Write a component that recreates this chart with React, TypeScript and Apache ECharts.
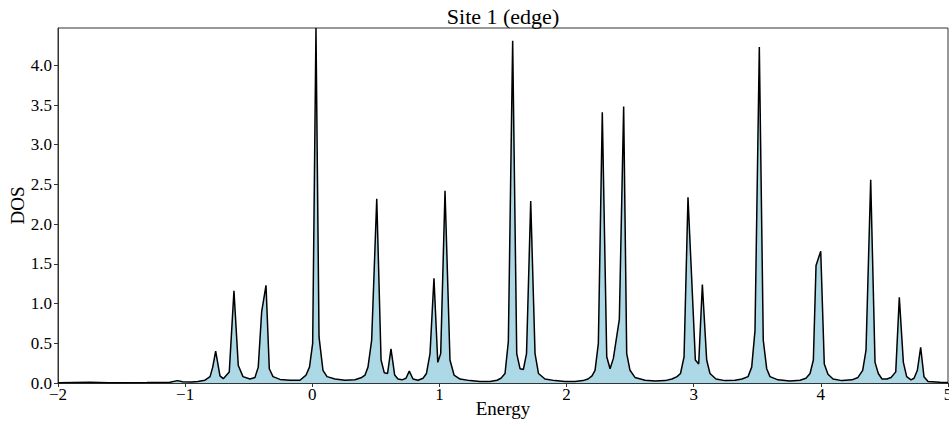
import React, { useEffect, useRef } from "react";
import * as echarts from "echarts";

const chartTitle = "Site 1 (edge)";
const xLabel = "Energy";
const yLabel = "DOS";

// Energy values of the curve vertices
const energy = [
  -2.0, -1.75, -1.6, -1.3, -1.12, -1.06, -1.02, -0.95, -0.9, -0.844,
  -0.804, -0.783, -0.76, -0.726, -0.7, -0.653, -0.616, -0.582, -0.545, -0.49,
  -0.451, -0.425, -0.398, -0.364, -0.338, -0.309, -0.254, -0.175, -0.097, -0.049,
  -0.022, 0.003, 0.029, 0.053, 0.084, 0.116, 0.179, 0.257, 0.336, 0.389,
  0.415, 0.438, 0.467, 0.507, 0.541, 0.566, 0.592, 0.619, 0.648, 0.674,
  0.706, 0.737, 0.763, 0.792, 0.832, 0.871, 0.898, 0.926, 0.957, 0.987,
  1.01, 1.044, 1.083, 1.115, 1.162, 1.241, 1.319, 1.398, 1.453, 1.484,
  1.516, 1.542, 1.576, 1.608, 1.634, 1.66, 1.685, 1.718, 1.752, 1.779,
  1.83, 1.909, 1.988, 2.066, 2.129, 2.169, 2.2, 2.224, 2.25, 2.281,
  2.316, 2.342, 2.368, 2.415, 2.449, 2.473, 2.499, 2.538, 2.617, 2.696,
  2.774, 2.829, 2.869, 2.896, 2.924, 2.955, 3.013, 3.039, 3.068, 3.102,
  3.128, 3.175, 3.246, 3.325, 3.38, 3.427, 3.456, 3.482, 3.516, 3.547,
  3.574, 3.6, 3.663, 3.757, 3.836, 3.883, 3.915, 3.941, 3.962, 3.999,
  4.027, 4.056, 4.096, 4.166, 4.245, 4.292, 4.329, 4.355, 4.392, 4.426,
  4.452, 4.481, 4.52, 4.552, 4.589, 4.617, 4.649, 4.675, 4.709, 4.733,
  4.759, 4.785, 4.811, 4.843, 4.937, 5.0,
];

// DOS values at those energies
const dos = [
  0.004, 0.008, 0.004, 0.005, 0.01, 0.03, 0.015, 0.012, 0.02, 0.035,
  0.08, 0.2, 0.4, 0.09, 0.055, 0.14, 1.16, 0.22, 0.08, 0.05,
  0.07, 0.2, 0.9, 1.23, 0.18, 0.08, 0.045, 0.035, 0.035, 0.1,
  0.2, 0.5, 4.47, 0.58, 0.16, 0.08, 0.05, 0.035, 0.04, 0.07,
  0.1, 0.2, 0.54, 2.32, 0.29, 0.13, 0.12, 0.43, 0.1, 0.05,
  0.04, 0.06, 0.15, 0.05, 0.035, 0.06, 0.12, 0.37, 1.32, 0.26,
  0.37, 2.42, 0.29, 0.1, 0.05, 0.03, 0.02, 0.02, 0.035, 0.06,
  0.12, 0.52, 4.31, 0.37, 0.18, 0.17, 0.37, 2.29, 0.37, 0.12,
  0.05, 0.03, 0.02, 0.02, 0.03, 0.05, 0.09, 0.16, 0.5, 3.41,
  0.33, 0.18, 0.31, 0.8, 3.48, 0.37, 0.16, 0.07, 0.035, 0.025,
  0.03, 0.05, 0.08, 0.12, 0.33, 2.34, 0.29, 0.24, 1.24, 0.29,
  0.12, 0.05, 0.03, 0.035, 0.05, 0.08, 0.2, 0.66, 4.23, 0.54,
  0.18, 0.08, 0.04, 0.025, 0.035, 0.06, 0.12, 0.29, 1.48, 1.66,
  0.24, 0.11, 0.05, 0.03, 0.04, 0.07, 0.16, 0.41, 2.56, 0.26,
  0.12, 0.05, 0.05, 0.07, 0.14, 1.08, 0.26, 0.08, 0.04, 0.06,
  0.16, 0.45, 0.08, 0.02, 0.008, 0.005,
];

const xTicks = [-2, -1, 0, 1, 2, 3, 4, 5];
const yTicks = [0, 0.5, 1, 1.5, 2, 2.5, 3, 3.5, 4];

const FONT = "Liberation Serif";

export default function App() {
  const ref = useRef<HTMLDivElement>(null);
  useEffect(() => {
    if (!ref.current) return;
    const chart = echarts.init(ref.current, null, { renderer: "svg" });
    const data = energy.map((e, i) => [e, dos[i]]);
    chart.setOption({
      animation: false,
      backgroundColor: "#ffffff",
      grid: {
        left: 58,
        right: 1,
        top: 28,
        bottom: 45,
        containLabel: false,
        outerBoundsMode: "none",
        show: true,
        borderColor: "#333333",
        borderWidth: 1,
      },
      graphic: [
        {
          type: "text",
          x: 503,
          y: 16,
          style: {
            text: chartTitle,
            font: `22px "${FONT}"`,
            fill: "#000000",
            textAlign: "center",
            textVerticalAlign: "middle",
          },
        },
      ],
      xAxis: {
        type: "value",
        min: -2,
        max: 5,
        interval: 1,
        name: xLabel,
        nameLocation: "middle",
        nameGap: 16,
        nameMoveOverlap: false,
        nameTextStyle: { fontFamily: FONT, fontSize: 19, color: "#000" },
        axisLine: { show: true, onZero: false, lineStyle: { color: "#333", width: 1 } },
        axisTick: { show: true, length: 4, lineStyle: { color: "#333" }, customValues: xTicks },
        axisLabel: {
          fontFamily: FONT,
          fontSize: 17,
          color: "#000",
          margin: 3,
          customValues: xTicks,
          formatter: (v: number) => (v < 0 ? "\u2212" + Math.abs(v) : String(v)),
        },
        splitLine: { show: false },
      },
      yAxis: {
        type: "value",
        min: 0,
        max: 4.47,
        interval: 0.5,
        name: yLabel,
        nameLocation: "middle",
        nameGap: 31,
        nameMoveOverlap: false,
        nameTextStyle: { fontFamily: FONT, fontSize: 19, color: "#000" },
        axisLine: { show: true, onZero: false, lineStyle: { color: "#333", width: 1 } },
        axisTick: { show: true, length: 4, lineStyle: { color: "#333" }, customValues: yTicks },
        axisLabel: {
          fontFamily: FONT,
          fontSize: 17,
          color: "#000",
          margin: 6,
          customValues: yTicks,
          formatter: (v: number) => v.toFixed(1),
        },
        splitLine: { show: false },
      },
      series: [
        {
          type: "line",
          data,
          showSymbol: false,
          symbol: "none",
          clip: true,
          lineStyle: { color: "#000000", width: 1.5 },
          areaStyle: { color: "#ADD8E6", opacity: 1 },
        },
      ],
    });
    return () => chart.dispose();
  }, []);
  return (
    <div
      ref={ref}
      style={{ position: "fixed", left: 0, top: 0, width: 949, height: 428 }}
    />
  );
}
